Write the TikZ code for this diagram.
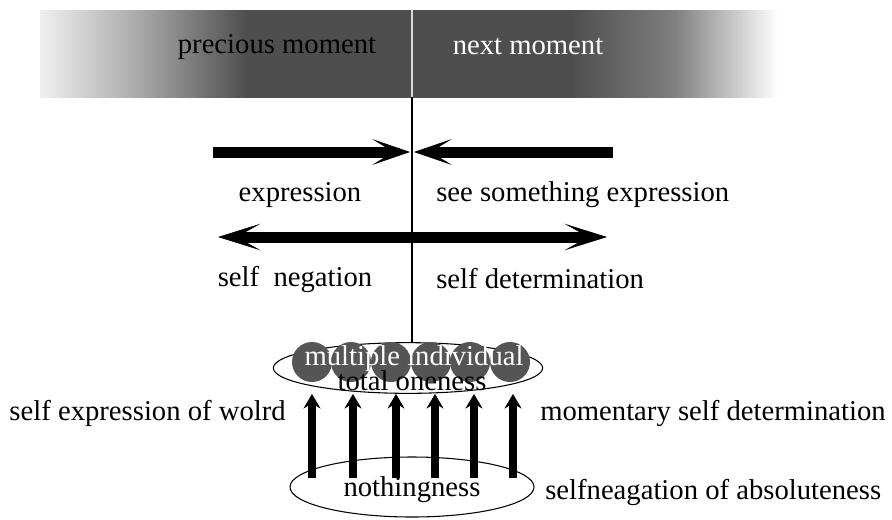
\documentclass[tikz,border=0pt]{standalone}
\usepackage{fontspec}
\setmainfont{Liberation Serif}
\usepackage{tikz}
\usepackage{xcolor}
\usetikzlibrary{arrows.meta,shapes.geometric}

\definecolor{bandgray}{HTML}{4E4E4E}
\definecolor{ballgray}{HTML}{555555}
\newcommand{\lblfont}{\rmfamily\fontsize{21.5}{24}\selectfont}
\pgfdeclarehorizontalshading{timeband}{100bp}{color(0bp)=(black!6); color(25bp)=(black!6);
  color(32bp)=(black!35); color(39bp)=(bandgray); color(61bp)=(bandgray);
  color(68bp)=(black!50); color(75bp)=(white); color(100bp)=(white)}

\begin{document}
\begin{tikzpicture}[x=0.75pt,y=-0.75pt,
    lbl/.style={font=\lblfont,inner sep=0pt},
    ball/.style={circle,fill=ballgray,minimum size=30pt,inner sep=0pt},
    flat/.style={line width=8.25pt},
    headR/.style={-{Stealth[length=28.5pt,width=19.5pt,inset=16pt,line width=0.5pt]}},
    headLR/.style={{Stealth[length=32pt,width=20pt,inset=18pt,line width=0.5pt]}-{Stealth[length=32pt,width=20pt,inset=18pt,line width=0.5pt]}},
    uparrow/.style={line width=6pt,-{Stealth[length=11pt,width=13pt,inset=4pt,line width=0.4pt]}}]

    \useasboundingbox (0,0) rectangle (892,519);

    % time band
    \shade[shading=timeband] (40,10) rectangle (778,97);
    \node[lbl] (prev) at (277,47) {precious moment};
    \node[lbl,text=white] (next) at (528,47) {next moment};

    \coordinate (axtop) at (412,10);
    \coordinate (axband) at (412,97);
    \coordinate (axbot) at (412,343);
    \draw[white!85!black,line width=0.8pt] (axtop) -- (axband);
    \draw[line width=0.8pt] (axband) -- (axbot);

    % arrows
    \coordinate (exL) at (213,152);
    \coordinate (exM) at (410,152);
    \coordinate (seR) at (613,152);
    \coordinate (seM) at (414,152);
    \draw[flat,headR] (exL) -- (exM);
    \draw[flat,headR] (seR) -- (seM);
    \node[lbl] (expr) at (300,195) {expression};
    \node[lbl,anchor=west] (seeexpr) at (436,195) {see something expression};

    \coordinate (negL) at (218,237);
    \coordinate (detR) at (607,237);
    \draw[flat,headLR] (negL) -- (detR);
    \node[lbl] (neg) at (295,279) {self\ \ negation};
    \node[lbl,anchor=west] (det) at (436,279) {self determination};

    % oneness
    \node[draw,ellipse,minimum width=202pt,minimum height=38pt,line width=0.8pt] (one) at (408,368) {};
    \foreach \i/\x in {1/312,2/351,3/391,4/431,5/470,6/510}
      \node[ball] (b\i) at (\x,362) {};
    \node[lbl,text=white] (multi) at (414,359) {multiple individual};
    \node[lbl] (total) at (412,381) {total oneness};

    % nothingness
    \node[draw,ellipse,minimum width=183pt,minimum height=45pt,line width=0.8pt] (none) at (412,487) {};
    \node[lbl] (nothing) at (412,490) {nothingness};

    \foreach \i/\x in {1/312,2/353,3/396,4/435,5/474,6/513}{
      \coordinate (f\i) at (\x,478);
      \coordinate (t\i) at (\x,394);
      \draw[uparrow] (f\i) -- (t\i);
    }

    \node[lbl,anchor=east] (world) at (286,413) {self expression of wolrd};
    \node[lbl,anchor=west] (mom) at (540,413) {momentary self determination};
    \node[lbl,anchor=west] (abs) at (545,492) {selfneagation of absoluteness};
  \end{tikzpicture}
\end{document}
